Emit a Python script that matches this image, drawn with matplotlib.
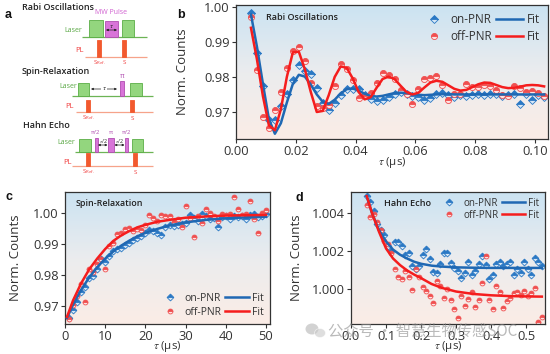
import numpy as np
import matplotlib
matplotlib.use('Agg')
import matplotlib.pyplot as plt
from matplotlib.patches import Rectangle, Ellipse
from matplotlib.colors import LinearSegmentedColormap
from matplotlib.ticker import FormatStrFormatter, FixedLocator

plt.rcParams['font.family'] = ['Open Sans', 'DejaVu Sans']
plt.rcParams['mathtext.fontset'] = 'stix'

# ---------------- data: panel b (Rabi oscillations) ----------------
tau_b = [0.005, 0.007, 0.009, 0.011, 0.013, 0.015, 0.017, 0.019, 0.021, 0.023,
         0.025, 0.027, 0.029, 0.031, 0.033, 0.035, 0.037, 0.039, 0.041, 0.043,
         0.045, 0.047, 0.049, 0.051, 0.053, 0.055, 0.057, 0.059, 0.061, 0.063,
         0.065, 0.067, 0.069, 0.071, 0.073, 0.075, 0.077, 0.079, 0.081, 0.083,
         0.085, 0.087, 0.089, 0.091, 0.093, 0.095, 0.097, 0.099, 0.101, 0.103]
rabi_on = [0.9981, 0.9868, 0.9775, 0.9678, 0.9678, 0.9718, 0.9752, 0.9792, 0.9834, 0.9818,
           0.9807, 0.9768, 0.9725, 0.9707, 0.9725, 0.9749, 0.9765, 0.9765, 0.9765, 0.9749,
           0.9737, 0.9732, 0.9735, 0.9744, 0.9752, 0.9758, 0.9751, 0.9746, 0.9742, 0.9735,
           0.9741, 0.9752, 0.9754, 0.9749, 0.9744, 0.9749, 0.9746, 0.9749, 0.9751, 0.9748,
           0.9750, 0.9752, 0.9746, 0.9748, 0.9750, 0.9722, 0.9752, 0.9735, 0.9748, 0.9742]
rabi_off = [0.9972, 0.9820, 0.9686, 0.9655, 0.9707, 0.9756, 0.9825, 0.9875, 0.9885, 0.9845,
            0.9784, 0.9716, 0.9711, 0.9721, 0.9775, 0.9838, 0.9822, 0.9790, 0.9740, 0.9745,
            0.9755, 0.9784, 0.9810, 0.9805, 0.9795, 0.9762, 0.9752, 0.9724, 0.9765, 0.9793,
            0.9798, 0.9802, 0.9777, 0.9735, 0.9750, 0.9752, 0.9780, 0.9772, 0.9770, 0.9776,
            0.9775, 0.9762, 0.9748, 0.9745, 0.9775, 0.9768, 0.9758, 0.9760, 0.9755, 0.9745]
rabi_fit_on = [0.9978, 0.9886, 0.9780, 0.9680, 0.9638, 0.9668, 0.9727, 0.9780, 0.9806, 0.9801,
               0.9778, 0.9750, 0.9729, 0.9723, 0.9735, 0.9753, 0.9765, 0.9767, 0.9761, 0.9752,
               0.9746, 0.9744, 0.9746, 0.9750, 0.9754, 0.9755, 0.9754, 0.9751, 0.9749, 0.9748,
               0.9749, 0.9750, 0.9751, 0.9751, 0.9750, 0.9750, 0.9750, 0.9750, 0.9750, 0.9750,
               0.9750, 0.9750, 0.9750, 0.9750, 0.9750, 0.9750, 0.9750, 0.9750, 0.9750, 0.9750]
rabi_fit_off = [0.9940, 0.9850, 0.9745, 0.9662, 0.9648, 0.9708, 0.9800, 0.9870, 0.9872, 0.9822,
                0.9757, 0.9700, 0.9703, 0.9748, 0.9800, 0.9830, 0.9826, 0.9796, 0.9757, 0.9736,
                0.9742, 0.9769, 0.9794, 0.9801, 0.9794, 0.9775, 0.9757, 0.9750, 0.9755, 0.9770,
                0.9784, 0.9789, 0.9786, 0.9776, 0.9766, 0.9761, 0.9763, 0.9771, 0.9779, 0.9784,
                0.9783, 0.9777, 0.9771, 0.9768, 0.9769, 0.9772, 0.9776, 0.9777, 0.9776, 0.9773]

# ---------------- data: panel c (spin relaxation) ----------------
tau_c = [1, 2, 3, 4, 5, 6, 7, 8, 9, 10, 11, 12, 13, 14, 15, 16, 17, 18, 19, 20,
         21, 22, 23, 24, 25, 26, 27, 28, 29, 30, 31, 32, 33, 34, 35, 36, 37, 38, 39, 40,
         41, 42, 43, 44, 45, 46, 47, 48, 49, 50]
relax_on = [0.9660, 0.9686, 0.9712, 0.9745, 0.9760, 0.9790, 0.9796, 0.9820, 0.9852, 0.9842,
            0.9860, 0.9878, 0.9884, 0.9888, 0.9897, 0.9905, 0.9912, 0.9918, 0.9925, 0.9935,
            0.9944, 0.9943, 0.9937, 0.9930, 0.9955, 0.9962, 0.9958, 0.9962, 0.9965, 0.9968,
            0.9994, 0.9985, 0.9975, 0.9996, 0.9990, 0.9980, 0.9985, 0.9955, 0.9987, 0.9990,
            0.9982, 0.9991, 0.9986, 0.9990, 0.9980, 0.9994, 0.9996, 0.9988, 0.9992, 0.9998]
relax_off = [0.9659, 0.9702, 0.9731, 0.9770, 0.9714, 0.9818, 0.9810, 0.9837, 0.9853, 0.9818,
             0.9894, 0.9902, 0.9932, 0.9936, 0.9950, 0.9953, 0.9943, 0.9948, 0.9945, 0.9960,
             0.9993, 0.9985, 0.9975, 0.9995, 0.9990, 0.9989, 0.9972, 0.9980, 0.9955, 1.0023,
             0.9985, 0.9923, 0.9990, 0.9968, 1.0012, 1.0000, 0.9990, 0.9974, 0.9998, 0.9995,
             0.9998, 1.0052, 1.0013, 0.9995, 0.9998, 1.0039, 0.9980, 0.9935, 1.0000, 1.0010]
tau_c_fit = [0.5, 2, 4, 6, 8, 10, 12, 14, 16, 18, 20, 23, 26, 30, 35, 40, 45, 50]
relax_fit_on = [0.9662, 0.9704, 0.9752, 0.9792, 0.9825, 0.9853, 0.9876, 0.9895, 0.9911,
                0.9925, 0.9936, 0.9949, 0.9960, 0.9970, 0.9978, 0.9983, 0.9986, 0.9988]
relax_fit_off = [0.9665, 0.9718, 0.9773, 0.9818, 0.9853, 0.9884, 0.9910, 0.9928, 0.9942,
                 0.9954, 0.9962, 0.9972, 0.9978, 0.9985, 0.9989, 0.9992, 0.9993, 0.9994]

# ---------------- data: panel d (Hahn echo) ----------------
tau_d = [0.045, 0.055, 0.065, 0.075, 0.085, 0.095, 0.105, 0.115, 0.125, 0.135,
         0.145, 0.155, 0.165, 0.175, 0.185, 0.195, 0.205, 0.215, 0.225, 0.235,
         0.245, 0.255, 0.265, 0.275, 0.285, 0.295, 0.305, 0.315, 0.325, 0.335,
         0.345, 0.355, 0.365, 0.375, 0.385, 0.395, 0.405, 0.415, 0.425, 0.435,
         0.445, 0.455, 0.465, 0.475, 0.485, 0.495, 0.505, 0.515, 0.525, 0.535, 0.545]
echo_on = [1.00490, 1.00457, 1.00414, 1.00340, 1.00313, 1.00283, 1.00228, 1.00198, 1.00245, 1.00247,
           1.00225, 1.00176, 1.00188, 1.00121, 1.00105, 1.00120, 1.00176, 1.00212, 1.00159, 1.00087,
           1.00084, 1.00132, 1.00190, 1.00189, 1.00138, 1.00107, 1.00096, 1.00055, 1.00084, 1.00143,
           1.00073, 1.00093, 1.00133, 1.00173, 1.00123, 1.00052, 1.00072, 1.00132, 1.00142, 1.00122,
           1.00132, 1.00142, 1.00072, 1.00102, 1.00082, 1.00142, 1.00102, 1.00072, 1.00162, 1.00142, 1.00122]
echo_off = [1.00445, 1.00380, 1.00395, 1.00355, 1.00310, 1.00250, 1.00235, 1.00190, 1.00105, 1.00060,
            1.00050, 1.00095, 1.00060, 0.99995, 1.00105, 1.00060, 1.00010, 0.99990, 0.99960, 0.99925,
            1.00040, 1.00015, 0.99950, 1.00000, 0.99940, 0.99890, 0.99845, 0.99960, 0.99910, 0.99945,
            0.99980, 0.99905, 0.99940, 1.00030, 1.00175, 0.99940, 0.99890, 1.00015, 0.99985, 0.99900,
            0.99935, 0.99950, 0.99975, 0.99985, 0.99965, 0.99990, 0.99960, 0.99975, 1.00005, 0.99826, 0.99850]
tau_d_fit = [0.045, 0.06, 0.08, 0.10, 0.12, 0.14, 0.16, 0.18, 0.20, 0.23, 0.26, 0.30,
             0.35, 0.40, 0.45, 0.50, 0.545]
echo_fit_on = [1.00490, 1.00400, 1.00310, 1.00250, 1.00207, 1.00180, 1.00160, 1.00143, 1.00132,
               1.00122, 1.00117, 1.00113, 1.00111, 1.00110, 1.00110, 1.00110, 1.00110]
echo_fit_off = [1.00490, 1.00400, 1.00301, 1.00213, 1.00160, 1.00125, 1.00097, 1.00075, 1.00056,
                1.00025, 1.00004, 0.99985, 0.99972, 0.99965, 0.99961, 0.99959, 0.99958]

# ---------------- styling ----------------
W, H = 550, 354
BLUE = '#1f68b3'
RED = '#f51d1d'
fig = plt.figure(figsize=(W / 100, H / 100), dpi=100)


def fr(l, t, r, b):
    return [l / W, 1 - b / H, (r - l) / W, (b - t) / H]


cmap = LinearSegmentedColormap.from_list('bgg', ['#fbede6', '#ebecee', '#cbe3f2'])
grad = np.linspace(0, 1, 256).reshape(-1, 1)

on_kw = dict(ls='none', marker='D', fillstyle='top', color='#2a78c4',
             markerfacecoloralt='#d6e7f6', markeredgecolor='#2a78c4', markeredgewidth=0.6, zorder=2)
off_kw = dict(ls='none', marker='o', fillstyle='top', color='#f04f4f',
              markerfacecoloralt='#fde2e2', markeredgecolor='#f04f4f', markeredgewidth=0.6, zorder=2)


def panel(rect, x, on, off, xf, fon, xf2, foff, ms, xlim, ylim, xticks, yticks, xfmt, yfmt,
          title, title_xy, leg_kw, ylab_x, xlab_bottom):
    ax = fig.add_axes(fr(*rect))
    ax.imshow(grad, cmap=cmap, aspect='auto', extent=(0, 1, 0, 1), transform=ax.transAxes,
              origin='lower', zorder=0, interpolation='bicubic')
    h1, = ax.plot(x, on, ms=ms, **on_kw)
    h2, = ax.plot(x, off, ms=ms, **off_kw)
    l1, = ax.plot(xf, fon, color=BLUE, lw=1.8, zorder=3, solid_joinstyle='round')
    l2, = ax.plot(xf2, foff, color=RED, lw=1.8, zorder=3, solid_joinstyle='round')
    ax.set_xlim(*xlim)
    ax.set_ylim(*ylim)
    ax.xaxis.set_major_locator(FixedLocator(xticks))
    ax.yaxis.set_major_locator(FixedLocator(yticks))
    ax.xaxis.set_major_formatter(FormatStrFormatter(xfmt))
    ax.yaxis.set_major_formatter(FormatStrFormatter(yfmt))
    ax.tick_params(direction='out', length=3, width=0.8, labelsize=9.3, colors='#333333', pad=1.5)
    for s in ax.spines.values():
        s.set_linewidth(0.9)
        s.set_color('#333333')
    ax.set_ylabel('Norm. Counts', fontsize=9.5, color='#333333')
    ax.set_xlabel(r'$\tau$ (μs)', fontsize=8.2, color='#333333', va='bottom')
    ax.yaxis.set_label_coords(ylab_x, 0.5)
    # place x label by its bottom edge (figure pixel row)
    t, b = rect[1], rect[3]
    ax.xaxis.set_label_coords(0.5, (b - xlab_bottom) / (b - t))
    ax.text(title_xy[0], title_xy[1], title, transform=ax.transAxes, fontsize=title_xy[2],
            weight='semibold', color='#222222', va='center', ha='left', zorder=5)
    leg = ax.legend([h1, h2, l1, l2], ['on-PNR', 'off-PNR', 'Fit', 'Fit'], ncol=2,
                    frameon=False, handletextpad=0.3, columnspacing=0.3, **leg_kw)
    for tx in leg.get_texts():
        tx.set_color('#333333')
    return ax


ax_b = panel((236, 5, 548, 139), tau_b, rabi_on, rabi_off, tau_b, rabi_fit_on, tau_b, rabi_fit_off,
             4.4, (0, 0.1043), (0.9623, 1.0005), [0, 0.02, 0.04, 0.06, 0.08, 0.10],
             [0.97, 0.98, 0.99, 1.00], '%.2f', '%.2f', 'Rabi Oscillations', (0.095, 0.905, 6.5),
             dict(loc='upper right', fontsize=8.5, handlelength=2.3, labelspacing=0.3,
                  borderaxespad=0.3), -0.15, 170)

ax_c = panel((65, 192, 270, 324), tau_c, relax_on, relax_off, tau_c_fit, relax_fit_on,
             tau_c_fit, relax_fit_off, 3.5, (0, 51), (0.9642, 1.0068), [0, 10, 20, 30, 40, 50],
             [0.97, 0.98, 0.99, 1.00], '%d', '%.2f', 'Spin-Relaxation', (0.05, 0.915, 6.4),
             dict(loc='lower right', fontsize=7.5, handlelength=2.3, labelspacing=0.3,
                  borderaxespad=0.2), -0.21, 353.5)

ax_d = panel((351, 192, 545, 324), tau_d, echo_on, echo_off, tau_d_fit, echo_fit_on,
             tau_d_fit, echo_fit_off, 3.5, (0, 0.554), (0.99813, 1.00512),
             [0.0, 0.1, 0.2, 0.3, 0.4, 0.5], [1.000, 1.002, 1.004], '%.1f', '%.3f',
             'Hahn Echo', (0.17, 0.915, 6.6),
             dict(loc='upper right', fontsize=7, handlelength=2.4, labelspacing=0.1,
                  borderaxespad=0.2), -0.25, 353.5)

# ---------------- panel a : pulse sequences ----------------
bg = fig.add_axes([0, 0, 1, 1], zorder=-1)
bg.set_xlim(0, W)
bg.set_ylim(H, 0)
bg.set_axis_off()

GF, GE, GL = '#93d67e', '#5bae46', '#6cb455'
PF, PE = '#d874d8', '#b04eb0'
RF, RL = '#f2592e', '#f6a38a'


def box(x0, x1, y0, y1, fc, ec):
    bg.add_patch(Rectangle((x0, y0), x1 - x0, y1 - y0, fc=fc, ec=ec, lw=0.6, zorder=3))


def hline(x0, x1, y, c, lw=0.9):
    bg.plot([x0, x1], [y, y], color=c, lw=lw, zorder=2, solid_capstyle='butt')


def txt(x, y, s, size, c, ha='center', **kw):
    bg.text(x, y, s, fontsize=size, color=c, ha=ha, va='center', **kw)


def arrow(x0, x1, y):
    bg.annotate('', xy=(x1, y), xytext=(x0, y),
                arrowprops=dict(arrowstyle='<|-|>', lw=0.5, color='#222222', mutation_scale=3,
                                shrinkA=0, shrinkB=0), zorder=4)


SREF = r'S$_{\mathregular{Ref.}}$'

# Rabi
txt(22, 7, 'Rabi Oscillations', 6.5, '#222222', ha='left', weight='semibold')
txt(111, 13, 'MW Pulse', 5, '#d060d0')
txt(73, 31, 'Laser', 5, '#5aa845')
hline(82, 147, 37, GL)
box(89, 103, 20, 37, GF, GE)
box(105, 118, 21, 37, PF, PE)
txt(111.5, 26, r'$\tau$', 5, '#222222')
arrow(106, 117, 30)
box(122, 134, 20, 37, GF, GE)
txt(79, 51, 'PL', 5.5, '#f03c3c')
hline(85, 147, 57, RL)
box(97, 101, 40, 57, RF, RF)
box(122, 126, 40, 57, RF, RF)
txt(99, 63, SREF, 4.5, '#f03c3c')
txt(124, 63, 'S', 4.5, '#f03c3c')

# Spin relaxation
txt(22, 72, 'Spin-Relaxation', 6.5, '#222222', ha='left', weight='semibold')
txt(68, 86, 'Laser', 5, '#5aa845')
hline(72, 153, 96, GL)
box(78, 89, 83, 96, GF, GE)
arrow(91, 117, 89)
bg.text(104, 89, r'$\tau$', fontsize=5, color='#222222', ha='center', va='center', zorder=5,
        bbox=dict(fc='white', ec='none', pad=0.3))
box(120, 124, 81, 96, PF, PE)
txt(122, 77, 'π', 5, '#b04eb0')
box(130, 142, 83, 96, GF, GE)
txt(70, 106, 'PL', 5.5, '#f03c3c')
hline(76, 153, 112, RL)
box(86, 90, 100, 112, RF, RF)
box(130, 134, 100, 112, RF, RF)
txt(88, 118, SREF, 4.5, '#f03c3c')
txt(132, 118, 'S', 4.5, '#f03c3c')

# Hahn echo
txt(23, 126, 'Hahn Echo', 6.5, '#222222', ha='left', weight='semibold')
txt(66, 143, 'Laser', 5, '#5aa845')
hline(75, 153, 152, GL)
box(79, 91, 139, 152, GF, GE)
box(95, 97.5, 138, 152, PF, PE)
txt(96, 133, 'π/2', 4.2, '#b04eb0')
arrow(98, 107.5, 145)
txt(103, 141, r'$\tau$/2', 3.8, '#222222')
box(108, 114, 138, 152, PF, PE)
txt(111, 133, 'π', 4.5, '#b04eb0')
arrow(114.5, 124.5, 145)
txt(119.5, 141, r'$\tau$/2', 3.8, '#222222')
box(125, 127.5, 138, 152, PF, PE)
txt(127, 133, 'π/2', 4.2, '#b04eb0')
box(132, 143, 139, 152, GF, GE)
txt(67, 162, 'PL', 5.5, '#f03c3c')
hline(72, 153, 166, RL)
box(86, 90, 153, 166, RF, RF)
box(133, 137, 153, 166, RF, RF)
txt(88, 172, SREF, 4.5, '#f03c3c')
txt(135, 172, 'S', 4.5, '#f03c3c')

# panel letters
for lab, (px, py) in {'a': (5, 15), 'b': (177, 15), 'c': (5, 197), 'd': (295, 198)}.items():
    fig.text(px / W, 1 - py / H, lab, fontsize=9, weight='bold', family='Liberation Sans',
             ha='left', va='center', color='#111111')

# watermark
fig.patches.append(Ellipse((312 / W, 1 - 329 / H), 13 / W, 11 / H, transform=fig.transFigure,
                           fc='#b5b5b5', ec='none', alpha=0.6, zorder=10))
fig.patches.append(Ellipse((320 / W, 1 - 333 / H), 11 / W, 9 / H, transform=fig.transFigure,
                           fc='#c8c8c8', ec='white', lw=0.6, alpha=0.6, zorder=10))
fig.text(328 / W, 1 - 331 / H, '公众号 · 智慧生物传感SOC', fontsize=11,
         family=['Noto Sans CJK SC', 'DejaVu Sans'], color='#8c8c8c', alpha=0.6,
         ha='left', va='center', zorder=10)

fig.savefig('out.png', dpi=100)
